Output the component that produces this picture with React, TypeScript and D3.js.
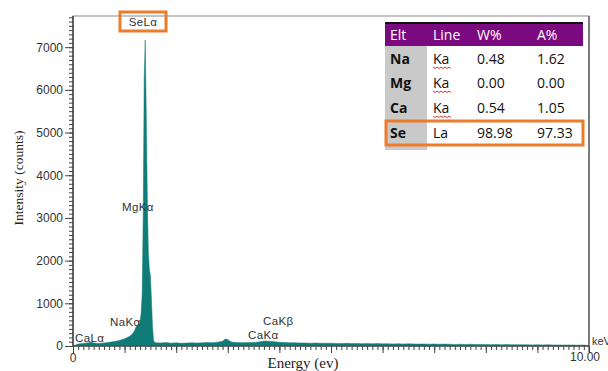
import * as d3 from "d3";
import { useRef, useEffect } from "react";

// EDS spectrum: energy (keV) and counts
const energy = [
  0.0, 0.1, 0.2, 0.3, 0.35, 0.4, 0.5, 0.6, 0.7, 0.8, 0.9, 1.0, 1.1,
  1.12, 1.14, 1.16, 1.18, 1.2, 1.22, 1.24, 1.26, 1.28, 1.3, 1.32, 1.34, 1.36, 1.38, 1.4,
  1.42, 1.44, 1.46, 1.48, 1.5, 1.52, 1.54, 1.56, 1.58,
  1.6, 1.7, 1.8, 1.9, 2.0, 2.1, 2.2, 2.3, 2.4, 2.5, 2.6, 2.7, 2.8, 2.9, 2.95, 3.0, 3.05, 3.1,
  3.2, 3.3, 3.4, 3.5, 3.6, 3.7, 3.8, 3.9, 4.0, 4.1, 4.2, 4.3, 4.4, 4.5, 4.6, 4.7, 4.8, 4.9,
  5.0, 5.1, 5.2, 5.3, 5.4, 5.5, 5.6, 5.7, 5.8, 5.9, 6.0, 6.1, 6.2, 6.3, 6.4, 6.5, 6.6, 6.7,
  6.8, 6.9, 7.0, 7.1, 7.2, 7.3, 7.4, 7.5, 7.6, 7.7, 7.8, 7.9, 8.0, 8.1, 8.2, 8.3, 8.4, 8.5,
  8.6, 8.7, 8.8, 8.9, 9.0, 9.1, 9.2, 9.3, 9.4, 9.5, 9.6, 9.7, 9.8, 9.9, 10.0,
];
const counts = [
  0, 45, 60, 75, 95, 70, 60, 68, 85, 105, 130, 170, 230,
  250, 270, 300, 330, 380, 440, 480, 460, 500, 600, 760, 1200, 3000, 6300, 7170,
  5400, 3500, 2200, 1800, 1650, 1100, 480, 140, 90,
  78, 72, 80, 66, 74, 62, 70, 76, 68, 74, 82, 78, 90, 110, 165, 150, 105, 85,
  80, 76, 84, 80, 95, 115, 110, 100, 88, 80, 74, 78, 70, 72, 66, 70, 64, 62,
  66, 60, 58, 64, 56, 60, 54, 58, 52, 56, 50, 54, 48, 52, 46, 50, 48, 44,
  48, 42, 46, 40, 44, 40, 38, 42, 36, 40, 36, 34, 38, 32, 36, 30, 34, 30,
  32, 28, 30, 26, 30, 26, 28, 24, 26, 22, 24, 22, 20, 22, 0,
];

const yTickLabels = [0, 1000, 2000, 3000, 4000, 5000, 6000, 7000];
const xTickLabels = ["0", "10.00"];

const tableHeader = ["Elt", "Line", "W%", "A%"];
const elements = ["Na", "Mg", "Ca", "Se"];
const lines = ["Ka", "Ka", "Ka", "La"];
const weightPct = ["0.48", "0.00", "0.54", "98.98"];
const atomicPct = ["1.62", "0.00", "1.05", "97.33"];

export default function App() {
  const width = 608, height = 371;
  const left = 73, right = 589, top = 16, bottom = 346;
  const x = d3.scaleLinear([0, 10], [left, right]);
  const y = d3.scaleLinear([0, 7730], [bottom, top]);
  const gy = useRef<SVGGElement>(null);
  const gyMinor = useRef<SVGGElement>(null);
  const gx = useRef<SVGGElement>(null);
  const gxMinor = useRef<SVGGElement>(null);

  const pts = energy.map((e, i) => ({ e, c: counts[i] }));
  const area = d3.area<{ e: number; c: number }>()
    .x((d) => x(d.e)).y0(y(0)).y1((d) => y(d.c));

  useEffect(() => {
    const style = (g: any) => {
      g.select(".domain").remove();
      g.selectAll("line").attr("stroke", "#444");
      g.selectAll("text").attr("fill", "#333").attr("font-family", "Liberation Sans, Arial, sans-serif").attr("font-size", 12);
    };
    d3.select(gy.current!).call(d3.axisLeft(y).tickValues(yTickLabels).tickSize(8).tickPadding(2).tickFormat(d3.format("d"))).call(style);
    d3.select(gyMinor.current!).call(d3.axisLeft(y).tickValues(d3.range(0, 7800, 100)).tickSize(4).tickFormat(() => "")).call(style);
    d3.select(gx.current!).call(d3.axisBottom(x).tickValues(d3.range(0, 11, 1)).tickSize(7).tickFormat(() => "")).call(style);
    d3.select(gxMinor.current!).call(d3.axisBottom(x).tickValues(d3.range(0, 101, 1).map((v) => v / 10)).tickSize(4).tickFormat(() => "")).call(style);
  }, []);

  const colX = [390, 433, 477, 537];
  const rowY = [59, 83, 108, 133];
  const font = "Liberation Sans, Arial, sans-serif";
  const tfont = "Open Sans, sans-serif";
  const wavy = (x0: number, y0: number, w: number) => {
    const p = d3.path();
    p.moveTo(x0, y0);
    for (let i = 0; i < w / 2; i++) p.lineTo(x0 + (i + 1) * 2, y0 + (i % 2 === 0 ? 1.5 : 0));
    return p.toString();
  };

  return (
    <svg width={width} height={height} style={{ position: "absolute", left: 0, top: 0, background: "#fff" }}>
      <path d={area(pts)!} fill="#0f7c77" stroke="#0f7c77" strokeWidth={0.5} />
      <g ref={gyMinor} transform={`translate(${left},0)`} />
      <g ref={gy} transform={`translate(${left},0)`} />
      <g ref={gxMinor} transform={`translate(0,${bottom})`} />
      <g ref={gx} transform={`translate(0,${bottom})`} />
      <rect x={left} y={top} width={right - left} height={bottom - top} fill="none" stroke="#888" strokeWidth={1} />
      <line x1={left} x2={left} y1={top} y2={bottom} stroke="#222" strokeWidth={1.2} />
      <line x1={left} x2={right} y1={bottom} y2={bottom} stroke="#333" strokeWidth={1} />
      <line x1={right} x2={right} y1={top} y2={bottom + 6} stroke="#333" strokeWidth={1} />

      <text x={x(0)} y={362} textAnchor="middle" fontFamily={font} fontSize={12} fill="#333">{xTickLabels[0]}</text>
      <text x={x(10) - 4} y={361} textAnchor="middle" fontFamily={font} fontSize={12} fill="#333">{xTickLabels[1]}</text>
      <text x={592} y={345} fontFamily={font} fontSize={11} fill="#333">keV</text>

      <text transform="translate(23,178) rotate(-90)" textAnchor="middle" fontFamily="Liberation Serif, Times New Roman, serif" fontSize={13.5} fill="#222">Intensity (counts)</text>
      <text x={303} y={368} textAnchor="middle" fontFamily="Liberation Serif, Times New Roman, serif" fontSize={15} fill="#222">Energy (ev)</text>

      {/* peak labels */}
      <g fontFamily={font} fontSize={11.5} fill="#333" letterSpacing={0.4}>
        <text x={143} y={26} textAnchor="middle">SeLα</text>
        <text x={122} y={211}>MgKα</text>
        <text x={110} y={326}>NaKα</text>
        <text x={75} y={342}>CaLα</text>
        <text x={263} y={325}>CaKβ</text>
        <text x={248} y={339}>CaKα</text>
      </g>
      <rect x={120} y={12} width={46} height={19} fill="none" stroke="#ec7c2c" strokeWidth={3} />

      {/* results table */}
      <rect x={377} y={17} width={211} height={140} fill="#fff" />
      <rect x={385} y={23} width={198} height={23} fill="#7b0a80" />
      <line x1={385} x2={583} y1={23} y2={23} stroke="#111" strokeWidth={2} />
      <rect x={385} y={46} width={42} height={104} fill="#c9c9c9" />
      <g fontFamily={tfont} fontSize={14}>
        {tableHeader.map((h, i) => (
          <text key={h} x={colX[i]} y={40} fill="#fff">{h}</text>
        ))}
        {elements.map((el, i) => (
          <g key={el}>
            <text x={colX[0]} y={rowY[i] + 5} fontWeight="bold" fill="#111">{el}</text>
            <text x={colX[1]} y={rowY[i] + 5} fill="#111">{lines[i]}</text>
            {lines[i] === "Ka" && <path d={wavy(colX[1], rowY[i] + 8, 18)} fill="none" stroke="#d22" strokeWidth={0.9} />}
            <text x={colX[2]} y={rowY[i] + 5} fill="#111">{weightPct[i]}</text>
            <text x={colX[3]} y={rowY[i] + 5} fill="#111">{atomicPct[i]}</text>
          </g>
        ))}
      </g>
      <rect x={386} y={121} width={197} height={24} fill="none" stroke="#ec7c2c" strokeWidth={3} />
    </svg>
  );
}
